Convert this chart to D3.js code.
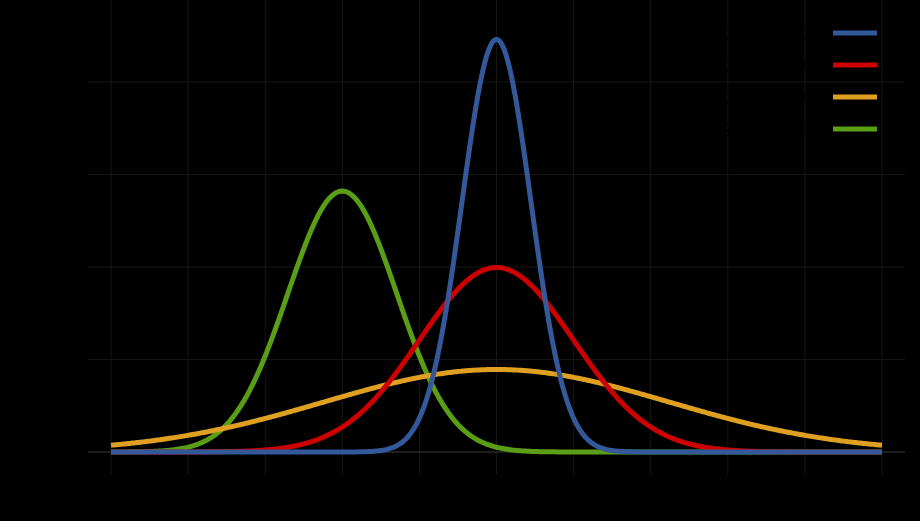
<!DOCTYPE html>
<html>
<head>
<meta charset="utf-8">
<script src="https://cdn.jsdelivr.net/npm/d3@7"></script>
<style>
  body { margin: 0; background: #000; }
  svg { display: block; }
</style>
</head>
<body>
<script>
// curve parameters (mean, variance) and colours
const labels = ["μ=0, σ²=0.2,", "μ=0, σ²=1.0,", "μ=0, σ²=5.0,", "μ=−2, σ²=0.5,"];
const means = [0, 0, 0, -2];
const variances = [0.2, 1.0, 5.0, 0.5];
const colors = ["#34599a", "#cc0000", "#dfa021", "#5a9e16"];
const drawOrder = [3, 2, 1, 0];

const xTicks = [-5, -4, -3, -2, -1, 0, 1, 2, 3, 4, 5];
const yTicks = [0, 0.2, 0.4, 0.6, 0.8];

const w = 920;
const h = 521;

const x = d3.scaleLinear().domain([-5, 5]).range([111, 882]);
const y = d3.scaleLinear().domain([0, 1]).range([452, -10.5]);

const svg = d3.select("body")
  .append("svg")
  .attr("width", w)
  .attr("height", h)
  .style("background", "#000");

// grid
svg.append("g")
  .selectAll("line")
  .data(xTicks)
  .enter()
  .append("line")
  .attr("x1", d => x(d))
  .attr("x2", d => x(d))
  .attr("y1", 0)
  .attr("y2", 475)
  .attr("stroke", "#161616")
  .attr("stroke-width", 1);

svg.append("g")
  .selectAll("line")
  .data(yTicks)
  .enter()
  .append("line")
  .attr("x1", 88)
  .attr("x2", 905)
  .attr("y1", d => y(d))
  .attr("y2", d => y(d))
  .attr("stroke", d => d === 0 ? "#1e1e1e" : "#161616")
  .attr("stroke-width", d => d === 0 ? 2 : 1);

// tick labels (black on black, like the original)
svg.append("g")
  .selectAll("text")
  .data(xTicks)
  .enter()
  .append("text")
  .attr("x", d => x(d))
  .attr("y", 500)
  .attr("text-anchor", "middle")
  .attr("font-family", "DejaVu Sans")
  .attr("font-size", 22)
  .attr("fill", "#000")
  .text(d => d < 0 ? "−" + Math.abs(d) : d);

svg.append("g")
  .selectAll("text")
  .data(yTicks)
  .enter()
  .append("text")
  .attr("x", 78)
  .attr("y", d => y(d) + 8)
  .attr("text-anchor", "end")
  .attr("font-family", "DejaVu Sans")
  .attr("font-size", 22)
  .attr("fill", "#000")
  .text(d => d.toFixed(1));

// density curves
const xs = d3.range(-5, 5.0001, 0.02);
const pdf = (t, m, v) => Math.exp(-(t - m) * (t - m) / (2 * v)) / Math.sqrt(2 * Math.PI * v);

const line = d3.line()
  .x(d => x(d[0]))
  .y(d => y(d[1]))
  .curve(d3.curveLinear);

svg.append("g")
  .selectAll("path")
  .data(drawOrder)
  .enter()
  .append("path")
  .attr("d", i => line(xs.map(t => [t, pdf(t, means[i], variances[i])])))
  .attr("fill", "none")
  .attr("stroke", i => colors[i])
  .attr("stroke-width", 5)
  .attr("stroke-linejoin", "round");

// legend
const legend = svg.append("g")
  .selectAll("g")
  .data(labels)
  .enter()
  .append("g")
  .attr("transform", (d, i) => `translate(0, ${33 + i * 32})`);

legend.append("line")
  .attr("x1", 833)
  .attr("x2", 877)
  .attr("stroke", (d, i) => colors[i])
  .attr("stroke-width", 5);

legend.append("text")
  .attr("x", 822)
  .attr("y", 7)
  .attr("text-anchor", "end")
  .attr("font-family", "DejaVu Sans")
  .attr("font-size", 20)
  .attr("fill", "#000")
  .text(d => d);
</script>
</body>
</html>
